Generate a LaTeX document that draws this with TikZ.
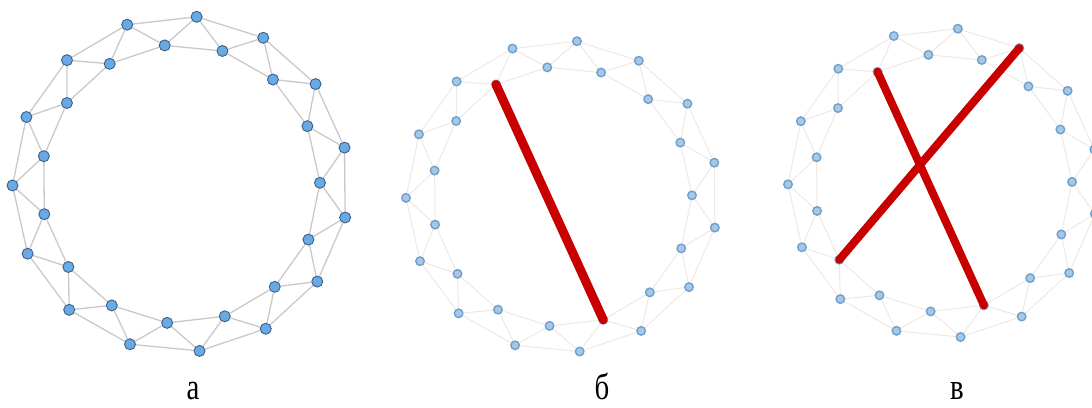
\documentclass[tikz,border=0pt]{standalone}
\usepackage{fontspec}
\setmainfont{Liberation Serif}
\usepackage{graphicx}
\usepackage{tikz}
\usetikzlibrary{positioning,calc,backgrounds}
\definecolor{ringFill}{HTML}{6AAAE4}
\definecolor{ringDraw}{HTML}{3A5F86}
\definecolor{ringGrey}{HTML}{C9C9C9}
\definecolor{fadedFill}{HTML}{A6C8E6}
\definecolor{fadedDraw}{HTML}{6F9FCB}
\definecolor{fadedGrey}{HTML}{EEE8E3}
\definecolor{shortRed}{HTML}{C80000}
\tikzset{
    % Vertices
    ringNode/.style={circle, draw=ringDraw, fill=ringFill, line width=0.9pt, minimum size=11pt, inner sep=0pt},
    fadedNode/.style={circle, draw=fadedDraw, fill=fadedFill, line width=1.4pt, minimum size=8.5pt, inner sep=0pt},
    % Links
    ringLink/.style={draw=ringGrey, line width=1.3pt},
    fadedLink/.style={draw=fadedGrey, line width=1pt},
    shortcut/.style={draw=shortRed, line width=9pt, line cap=round},
    panelLabel/.style={font=\fontsize{37}{37}\selectfont, anchor=base, inner sep=0pt}
}

\begin{document}
\begin{tikzpicture}[x=1pt, y=-1pt]
\useasboundingbox (0,0) rectangle (1092,407);
\foreach \p/\cx/\cy/\ro/\ri/\ns/\ls in {a/180.5/184/168/139.5/ringNode/ringLink, b/562/196.5/156/130/fadedNode/fadedLink, c/943/183/155/129/fadedNode/fadedLink} {
    \foreach \i in {0,...,29} {
        \pgfmathsetmacro{\r}{ifthenelse(mod(\i,2)==0,\ro,\ri)}
        \node[\ns] (\p-\i) at ($(\cx,\cy)+({-84.5-12*\i}:\r)$) {};
    }
    \begin{scope}[on background layer]
    \foreach \i in {0,...,29} {
        \pgfmathtruncatemacro{\j}{mod(\i+1,30)}
        \pgfmathtruncatemacro{\k}{mod(\i+2,30)}
        \draw[\ls] (\p-\i) -- (\p-\j) (\p-\i) -- (\p-\k);
    }
    \end{scope}
}
\draw[shortcut] (b-3.center) -- (b-17.center);
\draw[shortcut, line width=8pt] (c-3.center) -- (c-17.center);
\draw[shortcut, line width=8pt] (c-28.center) -- (c-11.center);
\node[panelLabel] (labA) at (193,399) {\scalebox{0.78}[1]{а}};
\node[panelLabel] (labB) at (602,399) {\scalebox{0.78}[1]{б}};
\node[panelLabel] (labC) at (957,399) {\scalebox{0.78}[1]{в}};
\end{tikzpicture}
\end{document}
